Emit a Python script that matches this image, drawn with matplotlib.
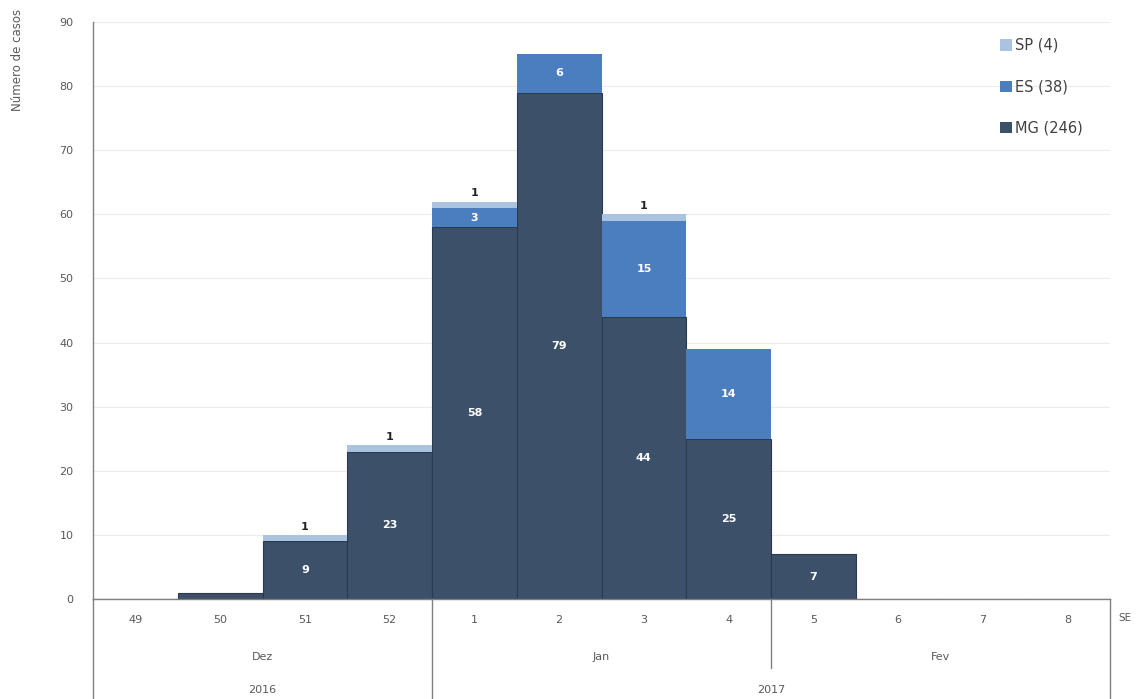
import matplotlib
matplotlib.use("Agg")
import matplotlib.pyplot as plt
import matplotlib.transforms as mtransforms
from matplotlib.patches import Patch
import numpy as np

weeks = ["49", "50", "51", "52", "1", "2", "3", "4", "5", "6", "7", "8"]
mg = [0, 1, 9, 23, 58, 79, 44, 25, 7, 0, 0, 0]
es = [0, 0, 0, 0, 3, 6, 15, 14, 0, 0, 0, 0]
sp = [0, 0, 1, 1, 1, 0, 1, 0, 0, 0, 0, 0]
months = ["Dez", "Jan", "Fev"]
month_spans = [(0, 3), (4, 7), (8, 11)]
years = ["2016", "2017"]
year_spans = [(0, 3), (4, 11)]
legend_labels = ["SP (4)", "ES (38)", "MG (246)"]

c_mg = "#3c5069"
c_es = "#4a7ebe"
c_sp = "#aac3e1"
edge = "#2b3a4c"
txt = "#595959"

fig = plt.figure(figsize=(11.4, 6.99), dpi=100)
ax = fig.add_axes([93/1140, 1-599/699, (1110-93)/1140, 577/699])

x = np.arange(len(weeks))
mg_a = np.array(mg); es_a = np.array(es); sp_a = np.array(sp)
ax.bar(x, mg_a, width=1.0, color=c_mg, edgecolor=edge, linewidth=0.8, zorder=2)
ax.bar(x, es_a, width=1.0, bottom=mg_a, color=c_es, linewidth=0.0, zorder=2)
ax.bar(x, sp_a, width=1.0, bottom=mg_a+es_a, color=c_sp, linewidth=0.0, zorder=2)

for i in x:
    if mg_a[i] >= 5:
        ax.text(i, mg_a[i]/2, str(mg_a[i]), ha="center", va="center", color="white",
                fontsize=8, fontweight="bold", zorder=3)
    if es_a[i] > 0:
        ax.text(i, mg_a[i] + es_a[i]/2, str(es_a[i]), ha="center", va="center", color="white",
                fontsize=8, fontweight="bold", zorder=3)
    if sp_a[i] > 0:
        ax.text(i, mg_a[i] + es_a[i] + sp_a[i] + 0.5, str(sp_a[i]), ha="center", va="bottom",
                color="#222222", fontsize=8, fontweight="bold", zorder=3)

ax.set_xlim(-0.5, 11.5)
ax.set_ylim(0, 90)
ax.set_yticks(range(0, 91, 10))
ax.set_yticklabels([str(v) for v in range(0, 91, 10)], color=txt, fontsize=8)
ax.tick_params(axis="y", length=0, pad=14)
ax.set_xticks([])
ax.yaxis.grid(True, color="#ececec", linewidth=0.8, zorder=0)
ax.set_axisbelow(True)
for s in ["top", "right"]:
    ax.spines[s].set_visible(False)
ax.spines["left"].set_color("#808080")
ax.spines["bottom"].set_color("#808080")
ax.spines["left"].set_linewidth(1.0)
ax.spines["bottom"].set_linewidth(1.0)

trans = mtransforms.blended_transform_factory(ax.transData, ax.transAxes)
bottom_y = -(100/577)
lc = "#808080"
ax.plot([-0.5, -0.5], [0, bottom_y], transform=trans, color=lc, lw=1.0, clip_on=False)
ax.plot([11.5, 11.5], [0, bottom_y], transform=trans, color=lc, lw=1.0, clip_on=False)
ax.plot([3.5, 3.5], [0, bottom_y], transform=trans, color=lc, lw=1.0, clip_on=False)
ax.plot([7.5, 7.5], [0, -(69/577)], transform=trans, color=lc, lw=1.0, clip_on=False)

for i, w in enumerate(weeks):
    ax.text(i, -(21/577), w, transform=trans, ha="center", va="center", color=txt, fontsize=8)
for m, (a, b) in zip(months, month_spans):
    ax.text((a+b)/2, -(58/577), m, transform=trans, ha="center", va="center", color=txt, fontsize=8)
for yv, (a, b) in zip(years, year_spans):
    ax.text((a+b)/2, -(91/577), yv, transform=trans, ha="center", va="center", color=txt, fontsize=8)
ax.text(11.5 + 0.1, -(19/577), "SE", transform=trans, ha="left", va="center", color=txt, fontsize=7.5)

fig.text(18/1140, 1-60/699, "Número de casos", rotation=90, ha="center", va="center",
         color=txt, fontsize=8.5)

handles = [Patch(facecolor=c_sp), Patch(facecolor=c_es), Patch(facecolor=c_mg)]
leg = ax.legend(handles, legend_labels, loc="upper left", bbox_to_anchor=((1000-93)/1017, 1-16/577),
                frameon=False, fontsize=10.5, handlelength=0.8, handleheight=0.8,
                handletextpad=0.2, labelspacing=1.8, borderaxespad=0, borderpad=0)
for t in leg.get_texts():
    t.set_color("#404040")

fig.savefig("out.png", dpi=100)
